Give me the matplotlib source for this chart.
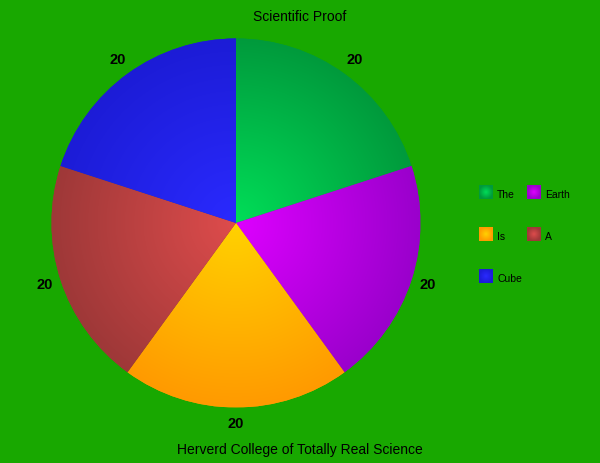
import numpy as np
import matplotlib
matplotlib.use("Agg")
import matplotlib.pyplot as plt
from matplotlib.patches import Rectangle

categories = ["The", "Earth", "Is", "A", "Cube"]
values = [20, 20, 20, 20, 20]
center_colors = ["#00de58", "#de00ff", "#ffd200", "#de4c4c", "#2a2aff"]
edge_colors = ["#009a3c", "#9a00cc", "#ff9a00", "#9e3838", "#1c1cd6"]
title = "Scientific Proof"
footer = "Herverd College of Totally Real Science"
bg = "#18a800"

plt.rcParams['font.family'] = ['Liberation Sans', 'DejaVu Sans']

W, H = 600, 463
fig = plt.figure(figsize=(6, 4.63), dpi=100, facecolor=bg)

cx, cy, R = 236, 223, 184.5
half = 200
ax = fig.add_axes([(cx - half) / W, (H - cy - half) / H, 2 * half / W, 2 * half / H])
ax.set_facecolor(bg)
ax.patch.set_alpha(0)
lim = half / R
ax.set_aspect('equal')
ax.axis('off')

wedges, _ = ax.pie(values, startangle=90, counterclock=False, radius=1,
                   colors=edge_colors, wedgeprops=dict(linewidth=0))
ax.set_xlim(-lim, lim)
ax.set_ylim(-lim, lim)

n = 400
xs = np.linspace(-1, 1, n)
X, Y = np.meshgrid(xs, xs)
Rr = np.clip(np.sqrt(X**2 + Y**2), 0, 1)

def grad(c0, c1, t):
    a = np.array(matplotlib.colors.to_rgb(c0))
    b = np.array(matplotlib.colors.to_rgb(c1))
    return a[None, None, :] * (1 - t[..., None]) + b[None, None, :] * t[..., None]

for w, c0, c1, v in zip(wedges, center_colors, edge_colors, values):
    img = ax.imshow(grad(c0, c1, Rr), extent=(-1, 1, -1, 1), origin='lower',
                    interpolation='bilinear', zorder=2)
    img.set_clip_path(w)
    th = np.deg2rad((w.theta1 + w.theta2) / 2)
    ax.text(1.09 * np.cos(th), 1.09 * np.sin(th), str(v), ha='center', va='center',
            fontsize=10.5, fontweight='bold', color='black', zorder=3)
ax.set_xlim(-lim, lim)
ax.set_ylim(-lim, lim)

# legend and titles in pixel coords
ax2 = fig.add_axes([0, 0, 1, 1])
ax2.axis('off')
ax2.patch.set_alpha(0)

ax2.text(300, 17, title, ha='center', va='center', fontsize=10, color='black')
ax2.text(300, 450, footer, ha='center', va='center', fontsize=10, color='black')

sq = 14
m = 50
gx = np.linspace(-1, 1, m)
GX, GY = np.meshgrid(gx, gx)
GR = np.clip(np.sqrt(GX**2 + GY**2), 0, 1)
for i, (cat, c0, c1) in enumerate(zip(categories, center_colors, edge_colors)):
    col = i % 2
    row = i // 2
    x0 = 479 + col * 48
    y0 = 185 + row * 42
    r = Rectangle((x0, y0), sq, sq, facecolor=c1, edgecolor='none', zorder=1)
    ax2.add_patch(r)
    im = ax2.imshow(grad(c0, c1, GR), extent=(x0, x0 + sq, y0 + sq, y0),
                    interpolation='bilinear', aspect='auto', zorder=2)
    im.set_clip_path(r)
    ax2.text(x0 + 18, y0 + 10.5, cat, ha='left', va='center', fontsize=7.5,
             color='black', zorder=3)
ax2.set_xlim(0, W)
ax2.set_ylim(H, 0)

fig.savefig("out.png", dpi=100, facecolor=bg)
